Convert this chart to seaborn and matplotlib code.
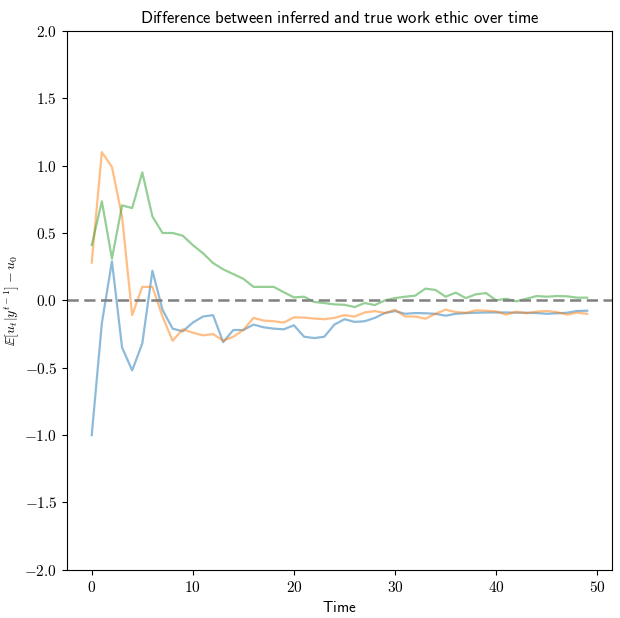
"""Inferred vs true work ethic: difference over time for three runs."""

import matplotlib
matplotlib.use("Agg")
import matplotlib.pyplot as plt
from matplotlib.ticker import FuncFormatter
import numpy as np
import pandas as pd
import seaborn as sns

TIME = list(range(50))

RUN_A = [-1.0, -0.17, 0.29, -0.35, -0.52, -0.32, 0.22, -0.07, -0.21, -0.23,
         -0.165, -0.12, -0.11, -0.31, -0.22, -0.22, -0.18, -0.20, -0.21, -0.215,
         -0.185, -0.27, -0.28, -0.27, -0.18, -0.14, -0.16, -0.155, -0.13, -0.094,
         -0.08, -0.10, -0.094, -0.096, -0.10, -0.114, -0.10, -0.095, -0.092, -0.09,
         -0.09, -0.09, -0.092, -0.092, -0.094, -0.10, -0.096, -0.092, -0.079, -0.077]

RUN_B = [0.28, 1.10, 0.99, 0.62, -0.11, 0.10, 0.10, -0.12, -0.30, -0.215,
         -0.24, -0.26, -0.25, -0.30, -0.27, -0.22, -0.13, -0.15, -0.155, -0.165,
         -0.126, -0.128, -0.135, -0.14, -0.13, -0.11, -0.12, -0.09, -0.08, -0.094,
         -0.07, -0.12, -0.12, -0.136, -0.10, -0.069, -0.087, -0.092, -0.074, -0.077,
         -0.082, -0.106, -0.084, -0.096, -0.084, -0.079, -0.087, -0.106, -0.092, -0.10]

RUN_C = [0.41, 0.735, 0.31, 0.705, 0.685, 0.95, 0.623, 0.50, 0.50, 0.48,
         0.41, 0.35, 0.277, 0.23, 0.195, 0.16, 0.10, 0.10, 0.10, 0.06,
         0.022, 0.027, -0.012, -0.02, -0.03, -0.033, -0.05, -0.02, -0.035, 0.0,
         0.017, 0.027, 0.035, 0.087, 0.077, 0.027, 0.057, 0.017, 0.045, 0.054,
         0.0, 0.012, -0.007, 0.012, 0.032, 0.027, 0.032, 0.03, 0.02, 0.02]

RUNS = {"a": RUN_A, "b": RUN_B, "c": RUN_C}


def main() -> None:
    plt.rcParams["mathtext.fontset"] = "cm"

    df = pd.concat(
        [pd.DataFrame({"t": TIME, "diff": v, "run": k}) for k, v in RUNS.items()],
        ignore_index=True,
    )

    fig, ax = plt.subplots(figsize=(6.2, 6.18), dpi=100)
    sns.lineplot(data=df, x="t", y="diff", hue="run",
                 palette=sns.color_palette("tab10", 3),
                 alpha=0.5, linewidth=1.6, legend=False, ax=ax)
    ax.axhline(0, color="gray", linestyle=(0, (4.5, 2.2)), linewidth=1.8)

    ax.set_ylim(-2, 2)
    ax.set_yticks(np.arange(-2.0, 2.01, 0.5))
    ax.yaxis.set_major_formatter(FuncFormatter(lambda v, _: f"${v:.1f}$"))
    ax.xaxis.set_major_formatter(FuncFormatter(lambda v, _: f"${v:.0f}$"))
    ax.tick_params(labelsize=11)

    ax.set_title(r"$\mathsf{Difference\ between\ inferred\ and\ true\ work\ ethic\ over\ time}$",
                 fontsize=12)
    ax.set_xlabel(r"$\mathsf{Time}$", fontsize=11)
    ax.set_ylabel(r"$\mathbb{E}[u_t|y^{t-1}]-u_0$", fontsize=10, labelpad=2)

    plt.subplots_adjust(left=0.108, right=0.987, top=0.95, bottom=0.078)
    fig.savefig("out.png", dpi=100)


if __name__ == "__main__":
    main()
